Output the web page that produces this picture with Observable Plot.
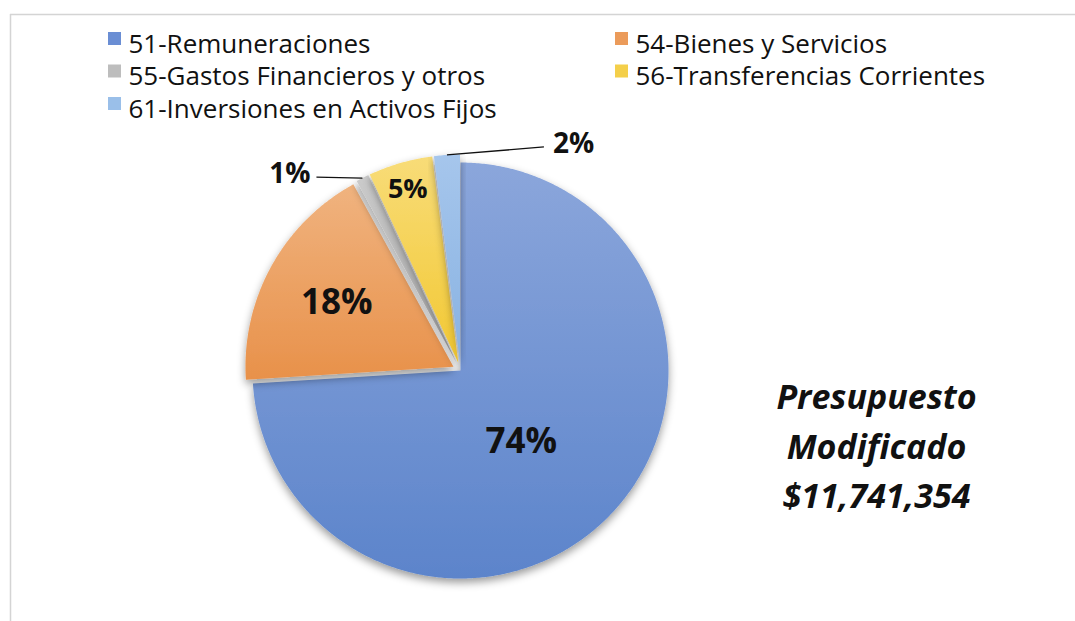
<!DOCTYPE html>
<html><head><meta charset="utf-8">
<script src="https://cdn.jsdelivr.net/npm/d3@7"></script>
<script src="https://cdn.jsdelivr.net/npm/@observablehq/plot@0.6"></script>
<style>
html,body{margin:0;padding:0;background:#fff;}
#chart svg{display:block;}
</style></head><body><div id="chart"></div>
<script>
// ---- data ----
const categories = [
  "51-Remuneraciones",
  "54-Bienes y Servicios",
  "55-Gastos Financieros y otros",
  "56-Transferencias Corrientes",
  "61-Inversiones en Activos Fijos"
];
const shares = [74, 18, 1, 5, 2];
const shareLabels = ["74%", "18%", "1%", "5%", "2%"];
const swatchColors = ["#6a8ed4", "#eb9b5a", "#bdbdbd", "#f4cf4a", "#9abfe9"];
const gradientTops = ["#8ba6db", "#f0b37f", "#cbcbcb", "#f8dc78", "#a6c6ec"];
const gradientBottoms = ["#5c84cb", "#e8914a", "#a9a9a9", "#f2c832", "#88b2e2"];
const totalLines = ["Presupuesto", "Modificado", "$11,741,354"];

// ---- layout ----
const W = 1075, H = 621;
const cx = 460, cy = 370, R = 208;
const explode = [0, 8, 8, 8, 8];
const labelLayout = [
  {mode: "in", k: 0.452, da: 0.113, size: 35},
  {mode: "in", k: 0.64, da: 0, size: 35},
  {mode: "out", dx: -46, dy: -1, anchor: "end", gap: 6, size: 28},
  {mode: "in", k: 0.87, da: 0, size: 27},
  {mode: "out", dx: 97, dy: -8, anchor: "start", gap: 9, size: 28}
];

const arcs = d3.pie().sort(null).value(d => d)(shares);
const slices = arcs.map((p, i) => {
  const mid = (p.startAngle + p.endAngle) / 2;
  const ox = cx + explode[i] * Math.sin(mid), oy = cy - explode[i] * Math.cos(mid);
  const pts = [{x: ox, y: oy}];
  const n = Math.max(2, Math.ceil((p.endAngle - p.startAngle) / (Math.PI / 360)));
  for (let k = 0; k <= n; k++) {
    const a = p.startAngle + (p.endAngle - p.startAngle) * k / n;
    pts.push({x: ox + R * Math.sin(a), y: oy - R * Math.cos(a)});
  }
  pts.push({x: ox, y: oy});
  return {i, mid, ox, oy, pts};
});

const inLabels = [], outLabels = [], leaders = [];
slices.forEach(s => {
  const L = labelLayout[s.i];
  if (L.mode === "in") {
    const a = s.mid + L.da;
    inLabels.push({x: s.ox + L.k * R * Math.sin(a), y: s.oy - L.k * R * Math.cos(a), t: shareLabels[s.i], size: L.size});
  } else {
    const ex = s.ox + R * Math.sin(s.mid), ey = s.oy - R * Math.cos(s.mid);
    const x2 = ex + L.dx, y2 = ey + L.dy;
    leaders.push({x1: ex, y1: ey, x2, y2});
    outLabels.push({x: x2 + (L.anchor === "end" ? -L.gap : L.gap), y: y2 - 3, t: shareLabels[s.i], anchor: L.anchor, size: L.size});
  }
});

const legend = categories.map((c, i) => {
  const col = i % 2, row = Math.floor(i / 2);
  const sx = col === 0 ? 108 : 615;
  const ty = 44 + row * 32.5;
  return {c, i, sx, tx: sx + 20, ty};
});

const marks = [
  Plot.ruleY([14], {x1: 10, x2: W, stroke: "#d4d4d4", strokeWidth: 1.5}),
  Plot.ruleX([10], {y1: 14, y2: H, stroke: "#d4d4d4", strokeWidth: 1.5}),
  ...slices.map(s => Plot.line(s.pts, {x: "x", y: "y", fill: `url(#grad${s.i})`, stroke: "none", curve: "linear"})),
  Plot.link(leaders, {x1: "x1", y1: "y1", x2: "x2", y2: "y2", stroke: "#111", strokeWidth: 1.3}),
  ...inLabels.map(d => Plot.text([d], {x: "x", y: "y", text: "t", fontSize: d.size, fontWeight: "bold", fill: "#111"})),
  ...outLabels.map(d => Plot.text([d], {x: "x", y: "y", text: "t", fontSize: d.size, fontWeight: "bold", fill: "#111", textAnchor: d.anchor})),
  Plot.rect(legend, {x1: d => d.sx, x2: d => d.sx + 13, y1: d => d.ty - 12, y2: d => d.ty + 1, fill: d => swatchColors[d.i]}),
  Plot.text(legend, {x: "tx", y: "ty", text: "c", textAnchor: "start", fontSize: 26, fill: "#111"}),
  Plot.text([totalLines.join("\n")], {x: () => 876, y: () => 442, text: d => d, fontSize: 34, fontWeight: "bold", fontStyle: "italic", lineHeight: 1.47, fill: "#111"})
];

const svg = Plot.plot({
  width: W, height: H,
  margin: 0,
  x: {domain: [0, W], range: [0, W], axis: null},
  y: {domain: [0, H], range: [0, H], axis: null},
  color: {type: "identity"},
  style: {fontFamily: "'Open Sans', sans-serif", background: "white", overflow: "visible"},
  marks
});

// gradients and shadow
const sel = d3.select(svg);
const defs = sel.insert("defs", ":first-child");
gradientTops.forEach((top, i) => {
  const g = defs.append("linearGradient").attr("id", `grad${i}`).attr("x1", 0).attr("y1", 0).attr("x2", 0).attr("y2", 1);
  g.append("stop").attr("offset", "0%").attr("stop-color", top);
  g.append("stop").attr("offset", "100%").attr("stop-color", gradientBottoms[i]);
});
const f = defs.append("filter").attr("id", "shadow").attr("x", "-20%").attr("y", "-20%").attr("width", "140%").attr("height", "140%");
f.append("feDropShadow").attr("dx", 0).attr("dy", 4).attr("stdDeviation", 4).attr("flood-color", "#000").attr("flood-opacity", 0.4);
sel.selectAll('g[aria-label="line"]').attr("filter", "url(#shadow)");

document.getElementById("chart").appendChild(svg);
</script>
</body></html>
